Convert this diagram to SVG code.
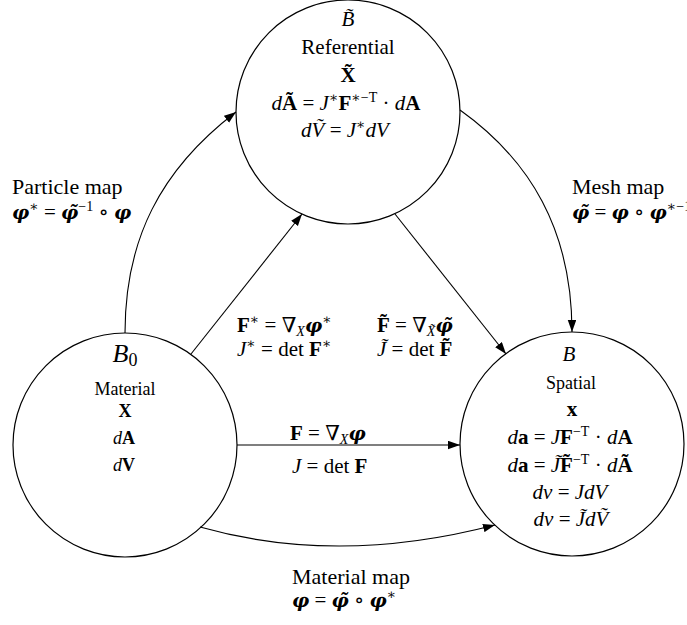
<svg xmlns="http://www.w3.org/2000/svg" width="687" height="625" viewBox="0 0 687 625">
<style>
.t{font-family:"Liberation Serif","DejaVu Serif",serif;font-size:21px;fill:#000}
.m{font-size:22px}
.s{font-size:18px}
.i{font-style:italic}
.b{font-weight:bold}
.bi{font-family:"DejaVu Serif",serif;font-style:italic;font-weight:bold;font-size:19px}
.sup{font-size:14px;font-style:normal;font-weight:normal}
.sub{font-size:14px}
.c{text-anchor:middle}
.node{fill:#fff;stroke:#000;stroke-width:1.2}
.edge{fill:none;stroke:#000;stroke-width:1.1;marker-end:url(#arr)}
</style>
<defs>
<marker id="arr" markerUnits="userSpaceOnUse" markerWidth="13" markerHeight="9" refX="12" refY="4.25" orient="auto">
<path d="M0,0 L12,4.25 L0,8.5 Z" fill="#000"/>
</marker>
</defs>
<rect width="687" height="625" fill="#fff"/>

<g id="node-referential">
<circle class="node" cx="348" cy="112" r="112"/>
<text class="t i c" x="348" y="26">B&#x303;</text>
<text class="t c" x="348" y="54">Referential</text>
<text class="t b c" x="348" y="82">X&#x303;</text>
<text class="t c" x="346" y="110"><tspan class="i">d</tspan><tspan class="b">Ã</tspan> = <tspan class="i">J</tspan><tspan class="sup" dy="-8">∗</tspan><tspan class="b" dy="8">F</tspan><tspan class="sup" dy="-8">∗−T</tspan><tspan dy="8"> · </tspan><tspan class="i">d</tspan><tspan class="b">A</tspan></text>
<text class="t c" x="345" y="137"><tspan class="i">dV&#x303;</tspan> = <tspan class="i">J</tspan><tspan class="sup" dy="-8">∗</tspan><tspan class="i" dy="8">dV</tspan></text>
</g>

<g id="node-material">
<circle class="node" cx="125" cy="445" r="112"/>
<text class="t c" x="125" y="362"><tspan class="i" font-size="26">B</tspan><tspan font-size="18" dy="4">0</tspan></text>
<text class="t s c" x="125" y="395">Material</text>
<text class="t s b c" x="125" y="417">X</text>
<text class="t s c" x="124" y="444"><tspan class="i">d</tspan><tspan class="b">A</tspan></text>
<text class="t s c" x="124" y="471"><tspan class="i">d</tspan><tspan class="b">V</tspan></text>
</g>

<g id="node-spatial">
<circle class="node" cx="572" cy="444" r="112"/>
<text class="t i c" x="569" y="361">B</text>
<text class="t s c" x="571" y="389">Spatial</text>
<text class="t b c" x="572" y="416" font-size="20">x</text>
<text class="t c" x="570" y="444"><tspan class="i">d</tspan><tspan class="b">a</tspan> = <tspan class="i">J</tspan><tspan class="b">F</tspan><tspan class="sup" dy="-8">−T</tspan><tspan dy="8"> · </tspan><tspan class="i">d</tspan><tspan class="b">A</tspan></text>
<text class="t c" x="570" y="472"><tspan class="i">d</tspan><tspan class="b">a</tspan> = <tspan class="i">J&#x303;</tspan><tspan class="b">F&#x303;</tspan><tspan class="sup" dy="-8">−T</tspan><tspan dy="8"> · </tspan><tspan class="i">d</tspan><tspan class="b">Ã</tspan></text>
<text class="t c" x="570" y="499"><tspan class="i">dv</tspan> = <tspan class="i">JdV</tspan></text>
<text class="t c" x="571" y="526"><tspan class="i">dv</tspan> = <tspan class="i">J&#x303;dV&#x303;</tspan></text>
</g>

<g id="connectors">
<path id="particle-map" class="edge" d="M125,333 C125,240 160,170 236,112"/>
<path id="mesh-map" class="edge" d="M460,110 C530,160 572,230 572,332"/>
<path id="F-star" class="edge" d="M191,354 L302,214"/>
<path id="F-tilde" class="edge" d="M395,214 L506,354"/>
<path id="F" class="edge" d="M237,445 L460,445"/>
<path id="material-map" class="edge" d="M200,527 Q338,566 495,525"/>
</g>

<g id="edge-labels">
<text class="t m" x="12" y="194">Particle map</text>
<text class="t" x="12" y="219"><tspan class="bi">φ</tspan><tspan class="sup" dy="-8">∗</tspan><tspan dy="8"> = </tspan><tspan class="bi">φ&#x303;</tspan><tspan class="sup" dy="-8">−1</tspan><tspan dy="8"> ∘ </tspan><tspan class="bi">φ</tspan></text>
<text class="t m" x="572" y="194">Mesh map</text>
<text class="t" x="572" y="219"><tspan class="bi">φ&#x303;</tspan> = <tspan class="bi">φ</tspan> ∘ <tspan class="bi">φ</tspan><tspan class="sup" dy="-8">∗−1</tspan></text>
<text class="t" x="237" y="332"><tspan class="b">F</tspan><tspan class="sup" dy="-8">∗</tspan><tspan dy="8"> = ∇</tspan><tspan class="sub i" dy="4">X</tspan><tspan class="bi" dy="-4">φ</tspan><tspan class="sup" dy="-8">∗</tspan></text>
<text class="t" x="237" y="356"><tspan class="i">J</tspan><tspan class="sup" dy="-8">∗</tspan><tspan dy="8"> = det </tspan><tspan class="b">F</tspan><tspan class="sup" dy="-8">∗</tspan></text>
<text class="t" x="377" y="332"><tspan class="b">F&#x303;</tspan> = ∇<tspan class="sub i" dy="4">X&#x303;</tspan><tspan class="bi" dy="-4">φ&#x303;</tspan></text>
<text class="t" x="377" y="356"><tspan class="i">J&#x303;</tspan> = det <tspan class="b">F&#x303;</tspan></text>
<text class="t" x="290" y="440"><tspan class="b">F</tspan> = ∇<tspan class="sub i" dy="4">X</tspan><tspan class="bi" dy="-4">φ</tspan></text>
<text class="t" x="292" y="473"><tspan class="i">J</tspan> = det <tspan class="b">F</tspan></text>
<text class="t m" x="292" y="584">Material map</text>
<text class="t" x="292" y="607"><tspan class="bi">φ</tspan> = <tspan class="bi">φ&#x303;</tspan> ∘ <tspan class="bi">φ</tspan><tspan class="sup" dy="-8">∗</tspan></text>
</g>
</svg>
